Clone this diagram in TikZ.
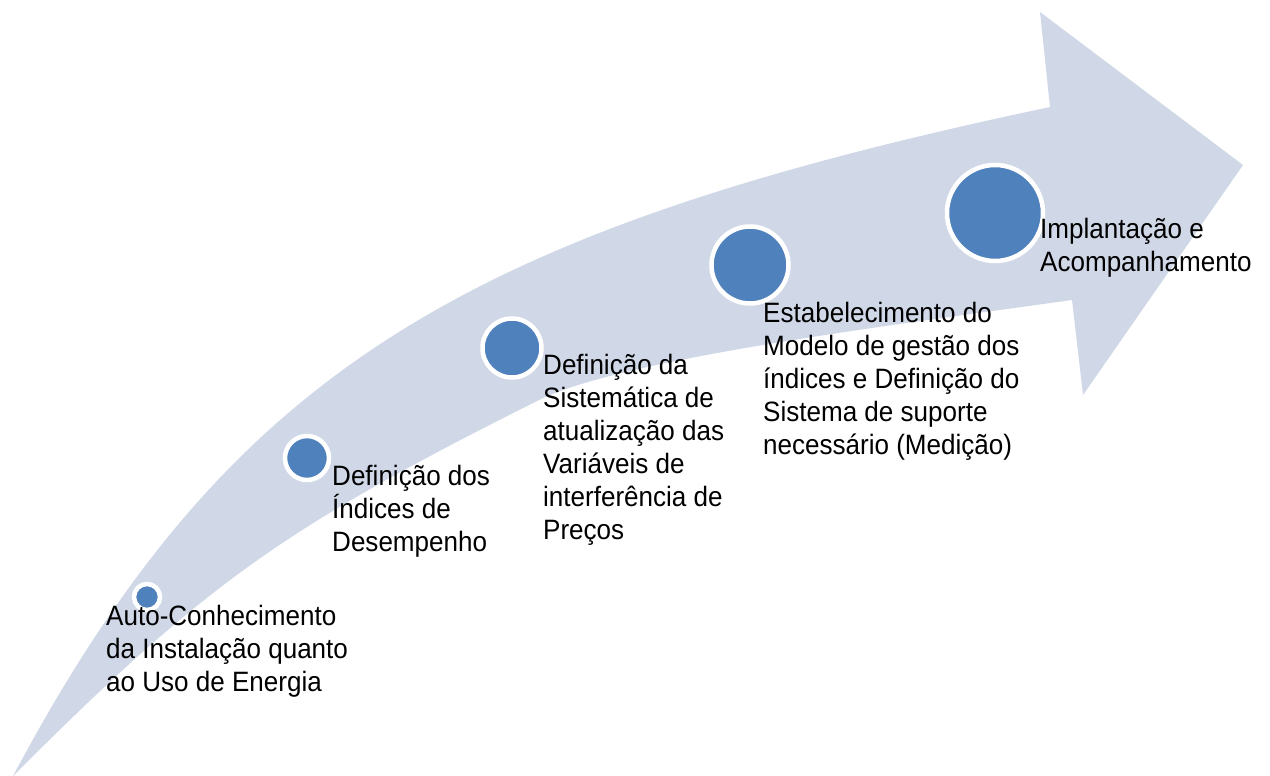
\documentclass[tikz,border=0pt]{standalone}
\usepackage{fontspec}
\setmainfont{Liberation Sans}[FakeStretch=0.93]
\definecolor{band}{HTML}{D0D8E8}
\definecolor{dot}{HTML}{4F81BD}
\begin{document}
\begin{tikzpicture}[x=1pt,y=-1pt,
  dotnode/.style={circle, fill=dot, draw=white, line width=4.5pt, inner sep=0pt},
  steplabel/.style={anchor=north west, inner sep=0pt, align=left, text=black,
    font=\fontsize{28}{33}\selectfont}]
\useasboundingbox (0,0) rectangle (1270,776);
% curved arrow band
\fill[band] (13,776) .. controls (229,371) and (463,231) .. (1050,107)
  -- (1040,12) -- (1243,165) -- (1083,395) -- (1072,300)
  .. controls (894,325) and (634,357) .. (543,398)
  .. controls (283,528) and (206,583) .. (13,776)
  -- cycle;
% dots
\node[dotnode, minimum size=26pt] (c1) at (147,597) {};
\node[dotnode, minimum size=44pt] (c2) at (307,458) {};
\node[dotnode, minimum size=59pt] (c3) at (512,348) {};
\node[dotnode, minimum size=77pt] (c4) at (750,265) {};
\node[dotnode, minimum size=96pt] (c5) at (995,213) {};
% labels
\node[steplabel] (t1) at (106,603) {\rule{0pt}{22pt}Auto-Conhecimento\\da Instalação quanto\\ao Uso de Energia};
\node[steplabel] (t2) at (332,463) {\rule{0pt}{22pt}Definição dos\\Índices de\\Desempenho};
\node[steplabel] (t3) at (543,352) {\rule{0pt}{22pt}Definição da\\Sistemática de\\atualização das\\Variáveis de\\interferência de\\Preços};
\node[steplabel] (t4) at (763,300) {\rule{0pt}{22pt}Estabelecimento do\\Modelo de gestão dos\\índices e Definição do\\Sistema de suporte\\necessário (Medição)};
\node[steplabel] (t5) at (1040,216) {\rule{0pt}{22pt}Implantação e\\Acompanhamento};
\end{tikzpicture}
\end{document}
